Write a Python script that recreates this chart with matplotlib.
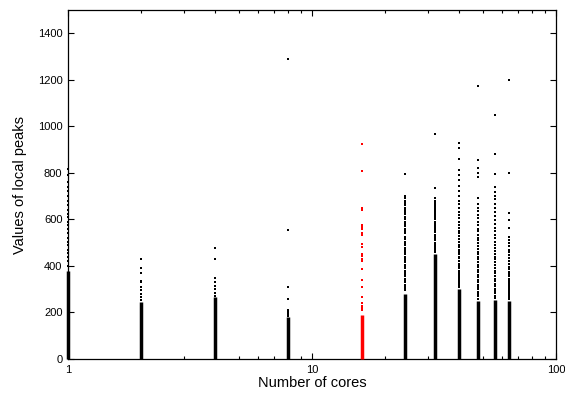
import numpy as np
import matplotlib
matplotlib.use("Agg")
import matplotlib.pyplot as plt
from matplotlib.ticker import LogLocator, NullFormatter

plt.rcParams['font.family'] = ['Liberation Sans', 'DejaVu Sans']

# x positions (number of cores) and the top of the dense part of each column
cores = [1, 2, 4, 8, 16, 24, 32, 40, 48, 56, 64]
dense_top = [380, 245, 265, 180, 189, 280, 450, 300, 250, 253, 250]

# individual peaks read above the dense part
peaks_1 = [400, 420, 440, 455, 470, 490, 505, 520, 540, 560, 575, 590, 610,
           625, 640, 660, 680, 700, 720, 740, 760, 790, 815]
peaks_2 = [255, 267, 280, 296, 310, 332, 336, 368, 392, 429]
peaks_4 = [272, 285, 303, 315, 332, 346, 429, 477]
peaks_8 = [185, 190, 195, 200, 205, 210, 256, 310, 554, 1291]
peaks_16 = [210, 218, 229, 239, 268, 310, 339, 386, 421, 428, 442, 451, 482,
            494, 532, 542, 557, 568, 578, 640, 651, 807, 926]
peaks_24 = [295, 305, 312, 320, 330, 338, 345, 355, 362, 370, 380, 390, 398,
            405, 415, 425, 432, 440, 450, 460, 470, 478, 488, 495, 505, 515,
            525, 540, 548, 560, 570, 580, 590, 600, 612, 622, 630, 640, 650,
            662, 672, 680, 690, 700, 797]
peaks_32 = [460, 468, 475, 485, 492, 500, 510, 518, 528, 535, 545, 555, 562,
            572, 580, 590, 600, 610, 618, 628, 636, 645, 655, 662, 672, 680,
            690, 733, 966]
peaks_40 = [310, 318, 326, 335, 344, 352, 362, 370, 380, 390, 400, 410, 420,
            432, 440, 452, 462, 470, 482, 492, 505, 515, 528, 540, 552, 565,
            578, 590, 605, 620, 632, 650, 665, 680, 700, 720, 745, 770, 790,
            812, 860, 905, 930]
peaks_48 = [260, 270, 280, 290, 300, 310, 320, 330, 340, 352, 362, 372, 382,
            395, 405, 415, 428, 438, 450, 462, 472, 485, 498, 510, 522, 535,
            548, 560, 575, 590, 605, 620, 635, 650, 668, 690, 781, 799, 820,
            854, 1172]
peaks_56 = [262, 272, 282, 292, 302, 312, 322, 334, 345, 356, 368, 380, 390,
            402, 415, 428, 440, 452, 465, 478, 492, 505, 520, 535, 550, 565,
            580, 598, 615, 632, 650, 668, 687, 700, 717, 740, 793, 879, 1050]
peaks_64 = [258, 266, 275, 284, 292, 300, 310, 318, 328, 336, 345, 355, 365,
            375, 385, 396, 408, 420, 432, 445, 458, 470, 485, 500, 511, 524,
            564, 597, 628, 800, 1200]

peaks = [peaks_1, peaks_2, peaks_4, peaks_8, peaks_16, peaks_24, peaks_32,
         peaks_40, peaks_48, peaks_56, peaks_64]
highlight = 16

fig = plt.figure(figsize=(5.65, 3.96), dpi=100)
ax = fig.add_axes([68 / 565, 37 / 396, 488 / 565, 349 / 396])

for c, top, vals in zip(cores, dense_top, peaks):
    col = '#ff0000' if c == highlight else '#000000'
    ax.vlines(c, 0, top, colors=col, linewidth=2.5, clip_on=False, zorder=3)
    ax.scatter([c] * len(vals), vals, marker='s', s=3.4, linewidths=0,
               color=col, clip_on=False, zorder=3)

ax.set_xscale('log')
ax.set_xlim(1, 100)
ax.set_ylim(0, 1500)
ax.set_xticks([1, 10, 100])
ax.set_xticklabels(['1', '10', '100'])
ax.xaxis.set_minor_locator(LogLocator(base=10, subs=np.arange(2, 10)))
ax.xaxis.set_minor_formatter(NullFormatter())
ax.set_yticks(np.arange(0, 1401, 200))

ax.tick_params(which='both', direction='in', top=True, right=True,
               labelsize=8, width=0.8)
ax.tick_params(which='major', length=4.5, pad=4)
ax.tick_params(which='minor', length=2.2)
for s in ax.spines.values():
    s.set_linewidth(0.9)

ax.set_xlabel('Number of cores', fontsize=10.5, labelpad=1)
ax.set_ylabel('Values of local peaks', fontsize=10.5, labelpad=8)

fig.savefig('out.png', dpi=100)
